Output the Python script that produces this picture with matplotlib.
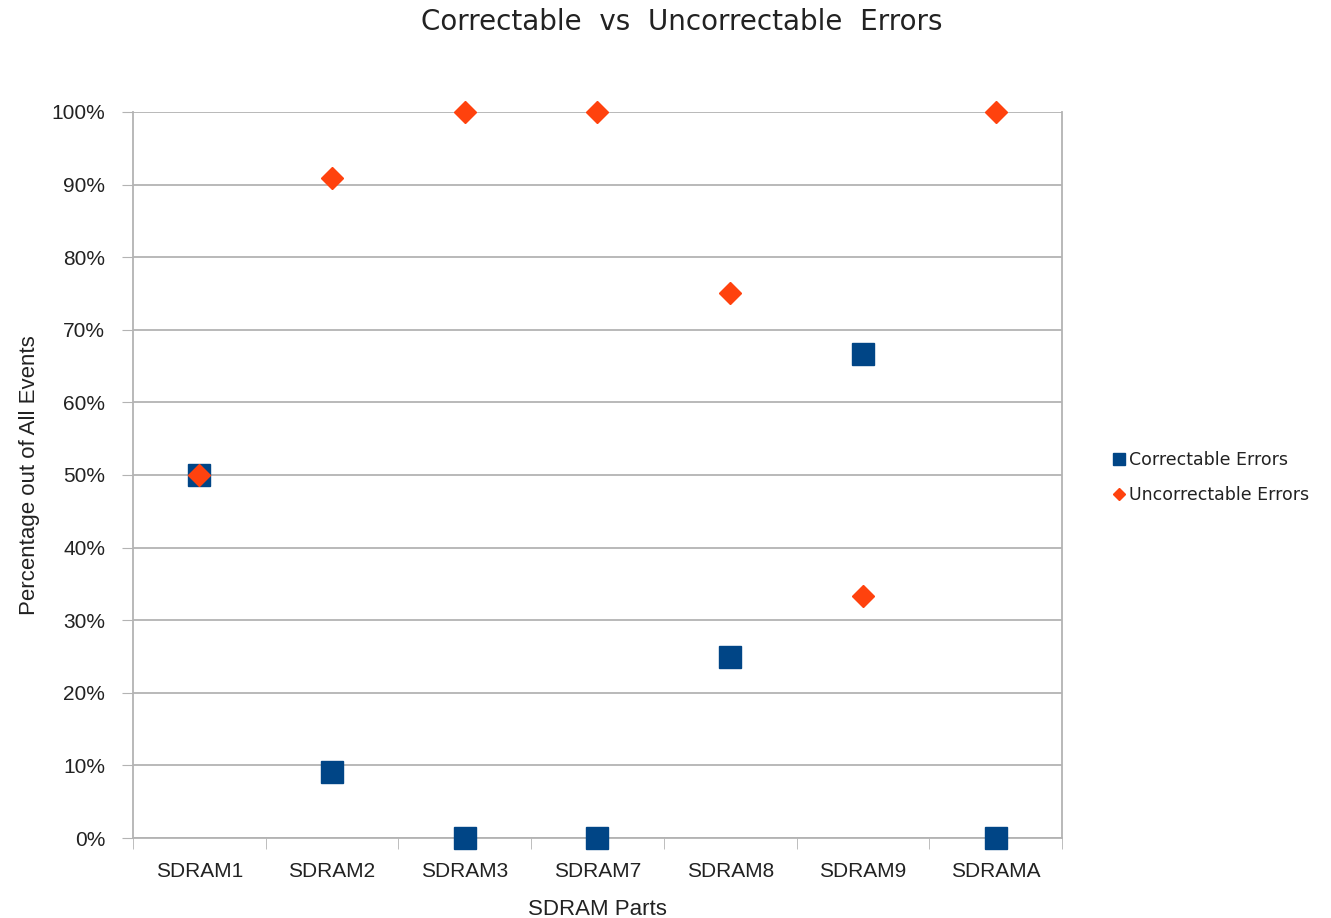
import matplotlib
matplotlib.use("Agg")
import matplotlib.pyplot as plt
import numpy as np
from matplotlib.ticker import FuncFormatter

plt.rcParams['font.family'] = ['Liberation Sans', 'DejaVu Sans']

parts = ['SDRAM1', 'SDRAM2', 'SDRAM3', 'SDRAM7', 'SDRAM8', 'SDRAM9', 'SDRAMA']
correctable = [50.0, 9.1, 0.0, 0.0, 25.0, 66.7, 0.0]     # %
uncorrectable = [50.0, 90.9, 100.0, 100.0, 75.0, 33.3, 100.0]  # %

blue = '#004586'
orange = '#ff420e'
grey = '#b3b3b3'
txt = '#222222'

fig = plt.figure(figsize=(13.31, 9.18), dpi=100)
ax = fig.add_axes([0.0999, 0.0871, 0.698, 0.791])

x = np.arange(len(parts))
ax.plot(x, correctable, linestyle='none', marker='s', markersize=16,
        color=blue, label='Correctable Errors', zorder=3, clip_on=False)
ax.plot(x, uncorrectable, linestyle='none', marker='D', markersize=11,
        color=orange, label='Uncorrectable Errors', zorder=4, clip_on=False)

ax.set_xlim(-0.5, len(parts) - 0.5)
ax.set_ylim(0, 100)
ax.set_yticks(np.arange(0, 101, 10))
ax.yaxis.set_major_formatter(FuncFormatter(lambda v, p: '%d%%' % v))
ax.set_xticks(x)
ax.set_xticklabels(parts)
ax.set_xticks(np.arange(-0.5, len(parts)), minor=True)
ax.tick_params(axis='x', which='major', length=0, pad=17, labelsize=15, colors=txt)
ax.tick_params(axis='x', which='minor', length=8, color=grey)
ax.tick_params(axis='y', length=8, color=grey, labelsize=15, labelcolor=txt, pad=12)

ax.grid(axis='y', color=grey, linewidth=1.3)
ax.set_axisbelow(True)
for s in ax.spines.values():
    s.set_color(grey)
    s.set_linewidth(1.3)
ax.spines['top'].set_visible(False)

ax.set_xlabel('SDRAM Parts', fontsize=16, color=txt, labelpad=13)
ax.set_ylabel('Percentage out of All Events', fontsize=16, color=txt, labelpad=8)

fig.text(0.512, 0.976, 'Correctable  vs  Uncorrectable  Errors', ha='center', va='center',
         fontsize=20, color=txt, family='DejaVu Sans')

leg = fig.legend(loc='center left', bbox_to_anchor=(0.826, 0.48), frameon=False,
                 prop={'family': 'DejaVu Sans', 'size': 12.5}, handlelength=0.5,
                 handletextpad=0.3, labelspacing=1.0, markerscale=0.55)
for t in leg.get_texts():
    t.set_color(txt)

fig.savefig('out.png', dpi=100)
